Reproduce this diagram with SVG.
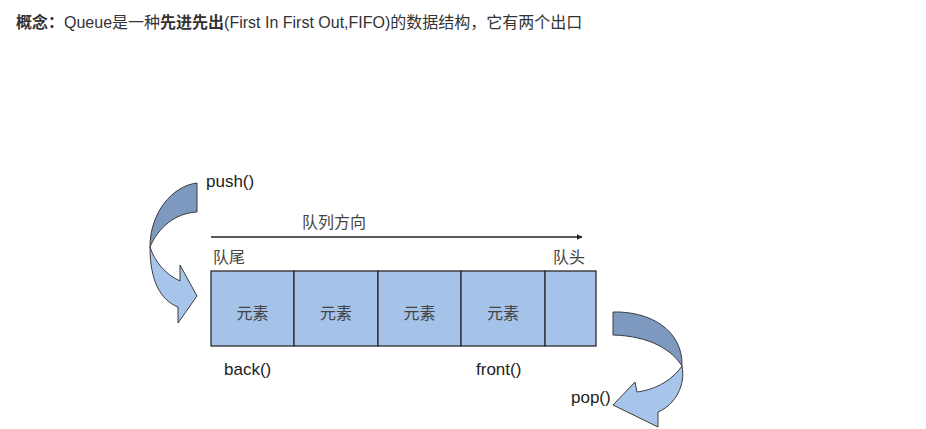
<svg xmlns="http://www.w3.org/2000/svg" width="926" height="429" viewBox="0 0 926 429">
<defs>
<style>
.t{font-family:"Liberation Sans","Noto Sans CJK SC",sans-serif;fill:#222}
.title{font-size:16px;fill:#333}
.b{font-weight:bold}
.lbl{font-size:17px}
.cjk{font-size:16px;fill:#444}
.cell{fill:#a5c3e8;stroke:#2b2b2b;stroke-width:1.3}
.dark{fill:#7e99bf;stroke:#3a3a3a;stroke-width:1}
.light{fill:#a7c5ea;stroke:#3a3a3a;stroke-width:1}
</style>
<marker id="ah" viewBox="0 0 10 10" refX="9" refY="5" markerWidth="6" markerHeight="6" orient="auto" markerUnits="userSpaceOnUse">
<path d="M0,0 L10,5 L0,10 Z" fill="#222"/>
</marker>
</defs>
<rect width="926" height="429" fill="#fff"/>
<g id="title">
<text class="t title" x="16" y="28"><tspan class="b">概念：</tspan>Queue是一种<tspan class="b">先进先出</tspan>(First In First Out,FIFO)的数据结构，它有两个出口</text>
</g>
<g id="connectors">
<line x1="211" y1="237" x2="582" y2="237" stroke="#222" stroke-width="1.5" marker-end="url(#ah)"/>
</g>
<g id="push-arrow">
<path class="dark" d="M197,183 C172,186 150,213 150,247 C158,228 175,213 197,212 Z"/>
<path class="light" d="M150,247 C150,280 160,300 178,307 L178,323 L197,296 L180,265 L180,281 C165,274 155,262 150,247 Z"/>
</g>
<g id="pop-arrow">
<path class="dark" d="M613,312 C650,311 683,330 682,366 C672,350 650,336 613,335 Z"/>
<path class="light" d="M682,366 C686,385 675,405 658,412 L658,427 L613,405 L635,382 L637,392 C652,390 670,383 682,366 Z"/>
</g>
<g id="queue">
<rect class="cell" x="211" y="271" width="83" height="75"/>
<rect class="cell" x="294" y="271" width="84" height="75"/>
<rect class="cell" x="378" y="271" width="83" height="75"/>
<rect class="cell" x="461" y="271" width="84" height="75"/>
<rect class="cell" x="545" y="271" width="51" height="75"/>
<text class="t cjk" x="252.5" y="319" text-anchor="middle">元素</text>
<text class="t cjk" x="336" y="319" text-anchor="middle">元素</text>
<text class="t cjk" x="419.5" y="319" text-anchor="middle">元素</text>
<text class="t cjk" x="503" y="319" text-anchor="middle">元素</text>
</g>
<g id="labels">
<text class="t lbl" x="206" y="187">push()</text>
<text class="t cjk" x="302" y="228">队列方向</text>
<text class="t cjk" x="213" y="263">队尾</text>
<text class="t cjk" x="553" y="263">队头</text>
<text class="t lbl" x="224" y="375">back()</text>
<text class="t lbl" x="476" y="375">front()</text>
<text class="t lbl" x="571" y="403">pop()</text>
</g>
</svg>
